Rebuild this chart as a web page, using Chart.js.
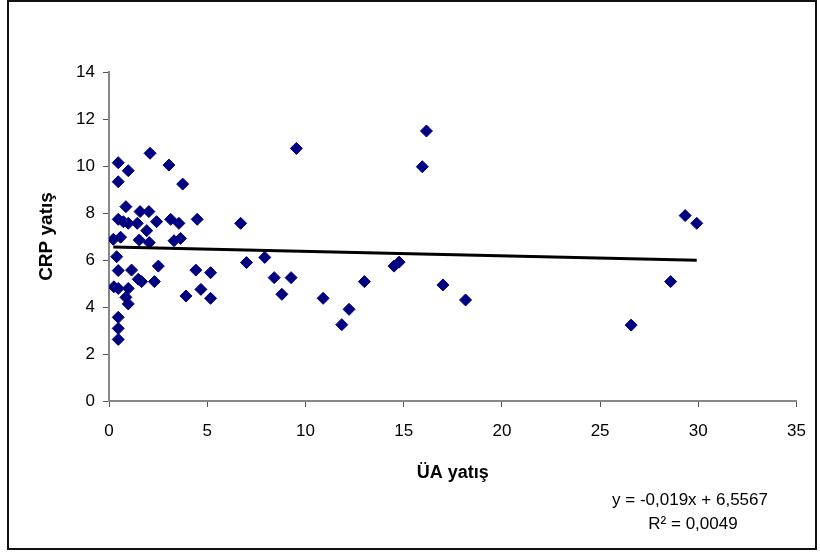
<!DOCTYPE html>
<html>
<head>
<meta charset="utf-8">
<script src="https://cdn.jsdelivr.net/npm/chart.js@4.4.1/dist/chart.umd.min.js"></script>
<style>
html,body{
margin:0;
padding:0;
background:#fff;
}
#wrap{
position:relative;
width:820px;
height:552px;
}
#frame{
position:absolute;
left:7px;
top:0px;
width:806px;
height:546px;
border:2px solid #111;
pointer-events:none;
}
</style>
</head>
<body>
<div id="wrap">
<canvas id="scatterChart" width="820" height="552"></canvas>
<div id="frame"></div>
</div>
<script>

const uaValues = [
2.09,0.47,3.05,0.98,0.47,3.75,0.86,1.58,2.03,0.47,
0.73,0.98,1.44,2.42,3.14,3.56,4.49,1.92,0.22,0.59,
1.54,2.05,3.31,3.64,0.39,0.47,1.15,2.51,1.49,1.66,
2.31,0.25,0.47,0.98,0.86,0.98,4.42,5.17,4.68,3.92,
5.17,0.47,0.47,0.47,9.54,6.70,7.00,7.93,8.41,9.27,
8.80,10.90,12.22,11.85,13.00,14.51,14.77,17.00,18.15,16.16,
15.95,29.33,29.92,28.59,26.58
];

const crpValues = [
10.54,10.14,10.04,9.80,9.33,9.23,8.27,8.06,8.06,7.73,
7.63,7.56,7.56,7.63,7.73,7.56,7.73,7.25,6.88,6.97,
6.85,6.74,6.82,6.92,6.14,5.55,5.57,5.74,5.18,5.08,
5.08,4.86,4.79,4.79,4.41,4.13,5.57,5.46,4.75,4.47,
4.37,3.56,3.09,2.62,10.75,7.56,5.89,6.11,5.25,5.25,
4.54,4.37,3.90,3.25,5.08,5.74,5.91,4.94,4.30,11.49,
9.97,7.89,7.56,5.08,3.23
];

// linear trend: y = slope * x + intercept
const trendSlope = -0.019;
const trendIntercept = 6.5567;

const equationLines = [
"y = -0,019x + 6,5567",
"R² = 0,0049"
];

Chart.defaults.font.family = "'Liberation Sans', Arial, sans-serif";
Chart.defaults.color = "#000";

function buildPoints(){

return uaValues.map((x,i)=>({
x:x,
y:crpValues[i]
}));

}

function buildTrend(){

const xMin = Math.min(...uaValues);
const xMax = Math.max(...uaValues);

return [
{x:xMin, y:trendSlope*xMin+trendIntercept},
{x:xMax, y:trendSlope*xMax+trendIntercept}
];

}

const equationPlugin = {

id:"equationText",

afterDraw(chart){

const ctx = chart.ctx;

ctx.save();
ctx.fillStyle = "#000";
ctx.font = "17px 'Liberation Sans', Arial, sans-serif";
ctx.textAlign = "center";
ctx.textBaseline = "middle";
ctx.fillText(equationLines[0], 690, 500);
ctx.fillText(equationLines[1], 693, 524);
ctx.restore();

}

};

new Chart(

document.getElementById("scatterChart"),

{

type:"scatter",

data:{

datasets:[

{
label:"CRP",
data:buildPoints(),
pointStyle:"rectRot",
pointRadius:6,
pointHoverRadius:6,
backgroundColor:"#000080",
borderColor:"#000080",
borderWidth:1,
order:2
},

{
label:"Trend",
type:"line",
data:buildTrend(),
borderColor:"#000",
borderWidth:3,
pointRadius:0,
fill:false,
order:1
}

]

},

options:{

responsive:false,
animation:false,

layout:{
padding:{left:0, top:72, right:23, bottom:0}
},

plugins:{
legend:{display:false},
tooltip:{enabled:false}
},

scales:{

x:{
type:"linear",
min:0,
max:35,
ticks:{
stepSize:5,
padding:14,
font:{size:17}
},
grid:{
drawOnChartArea:false,
drawTicks:true,
tickLength:6,
tickColor:"#555",
tickWidth:1
},
border:{
display:true,
color:"#888",
width:2
},
title:{
display:true,
text:"ÜA yatış",
font:{size:18, weight:"bold"},
padding:{top:0, bottom:68}
},
afterFit(scale){
scale.height = 151;
}
},

y:{
type:"linear",
min:0,
max:14,
ticks:{
stepSize:2,
padding:8,
font:{size:17}
},
grid:{
drawOnChartArea:false,
drawTicks:true,
tickLength:6,
tickColor:"#555",
tickWidth:1
},
border:{
display:true,
color:"#888",
width:2
},
title:{
display:true,
text:"CRP yatış",
font:{size:19, weight:"bold"},
padding:{top:35, bottom:0}
},
afterFit(scale){
scale.width = 109;
}
}

}

},

plugins:[equationPlugin]

}

);

</script>
</body>
</html>
